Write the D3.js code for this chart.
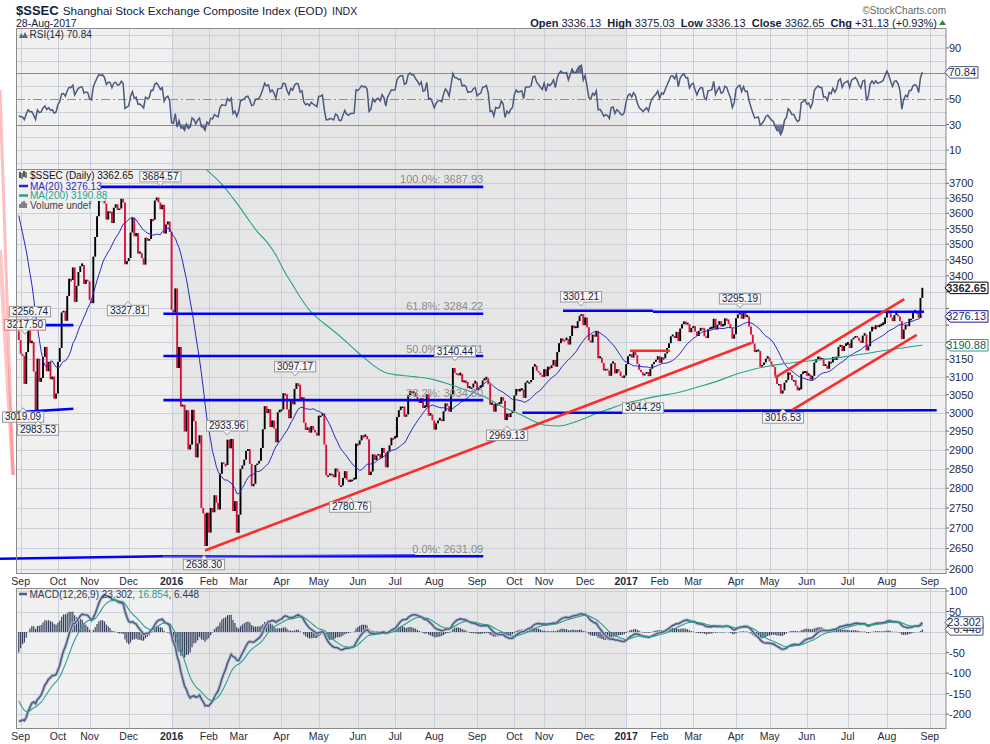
<!DOCTYPE html>
<html><head><meta charset="utf-8">
<script src="https://cdn.jsdelivr.net/npm/d3@7/dist/d3.min.js"></script>
<style>
body{margin:0;background:#fff}
svg{display:block}
.t{font-family:"Liberation Sans",Arial,sans-serif}
</style></head>
<body><svg id="c" width="990" height="744"></svg>
<script>
// ---------------- DATA ----------------
// warm-up closes (Jun 1 - Aug 28 2015) used only to seed MA/RSI/MACD
const warmupCloses = [4829,4910,4910,4947,5023,5131,5114,5106,5121,5166,5062,4887,4967,4786,4478,4577,4691,4528,4193,4053,4277,
4054,3913,3687,3776,3728,3507,3710,3878,3970,3925,3806,3823,3958,3993,4017,4027,4124,4071,3726,3663,3790,3705,3664,
3623,3757,3695,3661,3744,3928,3928,3887,3955,3965,3993,3749,3794,3664,3508,3210,2965,2927,3084,3232];
// daily closes, trading day index 0 = 31-Aug-2015 ... 485 = 28-Aug-2017
const closes = [3206,
3166,3160,3080,3171,3243,3197,3200,3115,3005,3152,3086,3097,3157,3186,3116,3143,3093,3101,3039,3053,
3143,3183,3288,3293,3263,3338,3391,3387,3426,3320,3369,3412,3430,3434,3375,3388,3383,
3326,3316,3460,3523,3590,3647,3640,3650,3632,3580,3607,3605,3568,3618,3630,3611,3616,3648,3636,3436,3446,
3456,3537,3585,3525,3536,3470,3472,3455,3435,3520,3511,3516,3581,3579,3642,3652,3636,3613,3628,3534,3563,3573,3539,
3296,3288,3361,3125,3186,3017,3022,2949,3007,2901,2914,3008,2977,2880,2917,2939,2750,2736,2656,2738,
2689,2750,2739,2782,2763,2746,2837,2867,2863,2860,2927,2904,2929,2742,2767,2688,
2733,2850,2859,2874,2897,2902,2863,2805,2811,2860,2864,2871,2905,2955,3018,2999,3010,2961,2979,2957,2920,3001,3004,
3009,3054,3051,3009,2985,3034,3023,3066,3082,3078,3034,3043,2973,2953,2960,2946,2964,2954,2946,2938,
2992,2992,2998,2914,2833,2833,2838,2836,2828,2851,2843,2807,2807,2826,2844,2822,2816,2822,2822,2823,2917,
2914,2925,2939,2935,2937,2928,2834,2843,2888,2873,2885,2889,2878,2905,2892,2854,2896,2912,2932,2930,
2933,2988,3007,3017,3017,2989,2995,3049,3060,3054,3055,3044,3037,3027,3040,3013,3016,3051,2992,2995,2979,
2954,2971,2979,2982,2977,3004,3026,3018,3003,3051,3125,3111,3110,3104,3108,3085,3090,3086,3068,3070,3070,3081,3085,
3063,3068,3072,3090,3092,3096,3079,3022,3024,3003,3026,3023,3025,3043,3033,2980,2998,2988,2999,3005,
3048,3066,3059,3062,3064,3041,3084,3085,3085,3091,3129,3132,3117,3112,3105,3100,
3122,3102,3129,3125,3133,3148,3129,3171,3197,3211,3207,3206,3209,3193,3218,3249,3241,3242,3262,3278,3283,3250,
3273,3244,3205,3199,3222,3216,3233,3153,3155,3140,3118,3123,3118,3103,3138,3140,3110,3122,3115,3102,3097,3104,
3136,3159,3165,3155,3171,3162,3137,3120,3113,3104,3109,3114,3102,3123,3136,3143,3149,3159,
3140,3156,3153,3167,3183,3197,3217,3218,3212,3230,3203,3240,3253,3261,3252,3253,3229,3242,
3247,3231,3218,3233,3242,3241,3217,3212,3238,3239,3241,3269,3237,3251,3262,3246,3249,3270,3267,3253,3241,3210,3223,
3271,3282,3287,3269,3289,3274,3276,3246,3222,3196,3171,3173,3174,3129,3134,3141,3152,3155,
3144,3135,3128,3103,3080,3080,3053,3062,3084,3091,3113,3105,3091,3091,3075,3062,3065,3108,3111,3117,
3103,3106,3092,3103,3141,3151,3158,3154,3154,3131,3132,3123,3144,3141,3157,3148,3158,3186,3192,3174,3189,3192,
3196,3183,3208,3213,3218,3213,3204,3198,3219,3222,3176,3188,3231,3245,3238,3250,3244,3247,3250,3254,3273,
3293,3285,3273,3262,3280,3282,3276,3262,3209,3237,3252,3247,3269,3269,3287,3291,3288,3272,3332,3363];
// MA(200): [dayIndex, value]
const ma200Points = [[100,3750],[104,3728],[110,3690],[115,3650],[120,3608],[124,3573],[128,3540],[133,3508],[138,3465],[142,3420],[147,3372],[151,3335],[156,3295],[161,3268],[166,3246],[171,3224],[176,3200],[181,3175],[186,3152],[191,3130],[196,3114],[201,3107],[206,3104],[213,3100],[222,3093],[231,3079],[240,3063],[250,3044],[259,3018],[268,2998],[277,2976],[283,2966],[290,2964],[297,2972],[304,2985],[310,2998],[318,3012],[325,3025],[334,3036],[343,3046],[354,3056],[365,3072],[375,3088],[383,3104],[392,3118],[400,3128],[410,3137],[418,3142],[427,3147],[436,3152],[445,3159],[454,3166],[463,3174],[474,3183],[485,3190.88]];
const monthTicks = [[1,"Sep"],[21,"Oct"],[38,"Nov"],[59,"Dec"],[82,"2016"],[102,"Feb"],[118,"Mar"],[141,"Apr"],[161,"May"],[182,"Jun"],[202,"Jul"],[223,"Aug"],[246,"Sep"],[266,"Oct"],[282,"Nov"],[304,"Dec"],[326,"2017"],[344,"Feb"],[362,"Mar"],[385,"Apr"],[403,"May"],[423,"Jun"],[445,"Jul"],[466,"Aug"],[489,"Sep"]];
const yearTicks = ["2016","2017"];
const priceTicks = [2600,2650,2700,2750,2800,2850,2900,2950,3000,3050,3100,3150,3200,3250,3300,3350,3400,3450,3500,3550,3600,3650,3700];
const rsiTicks = [10,30,50,70,90];
const rsiGrid = [0,10,20,40,60,80,90,100];
const macdTicks = [-200,-150,-100,-50,0,50,100];
const fibLevels = [["100.0%",3687.93],["61.8%",3284.22],["50.0%",3159.51],["38.2%",3034.80],["0.0%",2631.09]];
// price annotations: [dayIndex, value, side]
const priceLabels = [[76,3684.57,"up"],[58.6,3327.81,"down"],[6,3256.74,"up"],[3.3,3217.50,"up"],[2.3,3019.09,"down"],[10.3,2983.53,"down"],[111.8,2933.96,"up"],[99.4,2638.30,"down"],[148.3,3097.17,"up"],[177.8,2780.76,"down"],[234.1,3140.44,"up"],[262.1,2969.13,"down"],[301.8,3301.21,"up"],[335.1,3044.29,"down"],[387.1,3295.19,"up"],[410.2,3016.53,"down"]];
// drawn lines: [[i1,v1],[i2,v2], colour, width, opacity]
const drawnLines = [
 [[-10.1,4029],[-3.1,2834],"#ff5a5a",3,0.4],
 [[-10.1,3481],[-3.1,2834],"#ff5a5a",4,0.35],
 [[-1.5,3250],[29.3,3250],"#0000ff",2.6,1],
 [[-1.5,3001],[29.3,3011],"#0000ff",2.6,1],
 [[-10.1,2625],[77.6,2631],"#0000ff",2.6,1],
 [[77.6,2631],[212.7,2635],"#5050ff",1.3,1],
 [[292.1,3293],[340.4,3293],"#0000ff",2.6,1],
 [[340.4,3290],[485.9,3290],"#0000ff",2.6,1],
 [[270.3,3000],[326,3000],"#0000ff",2.6,1],
 [[326,3005],[492.7,3007],"#0000ff",2.6,1],
 [[100,2645],[393.4,3198],"#ff2a2a",2.6,1],
 [[328.1,3175],[349.5,3175],"#ff2a2a",2.6,1],
 [[405.9,3098],[475.3,3328],"#ff2a2a",2.6,1],
 [[415.2,3008],[482,3221],"#ff2a2a",2.6,1]
];
const headerQuote = [["Open","3336.13"],["High","3375.03"],["Low","3336.13"],["Close","3362.65"],["Chg","+31.13 (+0.93%)"]];
const lastValues = {close:3362.65, ma20:3276.13, ma200:3190.88, rsi:70.84, macd:23.302, signal:16.854, hist:6.448};

// ---------------- INDICATORS ----------------
const all = warmupCloses.concat(closes);
const off = warmupCloses.length;
const ma20 = closes.map((c,i)=>d3.mean(all.slice(off+i-19, off+i+1)));
function emaCalc(arr,n){const k=2/(n+1);let e=arr[0];return arr.map((v,i)=>{e=i===0?v:v*k+e*(1-k);return e;});}
const e12=emaCalc(all,12), e26=emaCalc(all,26);
const macdAll=all.map((v,i)=>e12[i]-e26[i]);
const sigAll=emaCalc(macdAll,9);
const macd=closes.map((c,i)=>macdAll[off+i]);
const signal=closes.map((c,i)=>sigAll[off+i]);
const hist=closes.map((c,i)=>macd[i]-signal[i]);
function rsiCalc(arr,n){const out=[];let ag=0,al=0;for(let i=1;i<arr.length;i++){const ch=arr[i]-arr[i-1];const g=Math.max(ch,0),l=Math.max(-ch,0);
 if(i<=n){ag+=g/n;al+=l/n;}else{ag=(ag*(n-1)+g)/n;al=(al*(n-1)+l)/n;} out[i]= i>=n ? 100-100/(1+ag/(al||1e-9)) : 50;} out[0]=50; return out;}
const rsiAll=rsiCalc(all,14);
const rsi=closes.map((c,i)=>rsiAll[off+i]);

// ---------------- LAYOUT ----------------
const svg=d3.select("#c");
const L=16,R=946;
const P={rsi:[28.5,169.5],main:[169.5,573.5],macd:[588.5,728.5]};
const x=d3.scaleLinear().domain([-1.5,497.7]).range([L,R]);
const y=d3.scaleLog().domain([2590,3747]).range([P.main[1],P.main[0]]);
const yr=d3.scaleLinear().domain([-5.25,105.2]).range([P.rsi[1],P.rsi[0]]);
const ym=d3.scaleLinear().domain([-234.5,106.6]).range([728.3,588.3]);
const GRID="#c9d0da", BORDER="#8a8a8a", TXT="#1e2a40", RED="#d8123c", TEAL="#27a28c", BLUE="#2727c8";
const i2016=monthTicks.find(d=>d[1]==="2016")[0], i2017=monthTicks.find(d=>d[1]==="2017")[0];

Object.entries(P).forEach(([k,[t,b]])=>{
  svg.append("rect").attr("x",L).attr("y",t).attr("width",R-L).attr("height",b-t).attr("fill","#f0f0f0");
  svg.append("rect").attr("x",x(i2016)).attr("y",t).attr("width",x(i2017)-x(i2016)).attr("height",b-t).attr("fill","#e6e6e6");
  svg.append("g").selectAll("line").data(monthTicks).join("line")
    .attr("x1",d=>Math.round(x(d[0]))+0.5).attr("x2",d=>Math.round(x(d[0]))+0.5).attr("y1",t).attr("y2",b)
    .attr("stroke",GRID).attr("stroke-width",1);
});
svg.append("g").selectAll("line").data(priceTicks).join("line")
  .attr("x1",L).attr("x2",R).attr("y1",d=>Math.round(y(d))+0.5).attr("y2",d=>Math.round(y(d))+0.5).attr("stroke",GRID);
svg.append("g").selectAll("line").data(rsiGrid).join("line")
  .attr("x1",L).attr("x2",R).attr("y1",d=>Math.round(yr(d))+0.5).attr("y2",d=>Math.round(yr(d))+0.5).attr("stroke",GRID);
svg.append("g").selectAll("line").data([30,70]).join("line")
  .attr("x1",L).attr("x2",R).attr("y1",d=>Math.round(yr(d))+0.5).attr("y2",d=>Math.round(yr(d))+0.5).attr("stroke","#8d8d8d");
svg.append("line").attr("x1",L).attr("x2",R).attr("y1",Math.round(yr(50))+0.5).attr("y2",Math.round(yr(50))+0.5)
  .attr("stroke","#909090").attr("stroke-dasharray","9,3,2,3");
svg.append("g").selectAll("line").data([-200,-150,-100,-50,0,50,100]).join("line")
  .attr("x1",L).attr("x2",R).attr("y1",d=>Math.round(ym(d))+0.5).attr("y2",d=>Math.round(ym(d))+0.5).attr("stroke",GRID);

const defs=svg.append("defs");
Object.entries(P).forEach(([k,[t,b]])=>{
  defs.append("clipPath").attr("id","clip-"+k).append("rect").attr("x",L).attr("y",t).attr("width",R-L).attr("height",b-t);
});

// ---------------- RSI ----------------
const gr=svg.append("g").attr("clip-path","url(#clip-rsi)");
const areaHi=d3.area().x((d,i)=>x(i)).y0(yr(70)).y1(d=>yr(Math.max(d,70)));
const areaLo=d3.area().x((d,i)=>x(i)).y0(yr(30)).y1(d=>yr(Math.min(d,30)));
gr.append("path").attr("d",areaHi(rsi)).attr("fill","#6b7794");
gr.append("path").attr("d",areaLo(rsi)).attr("fill","#6b7794");
gr.append("path").attr("d",d3.line().x((d,i)=>x(i)).y(d=>yr(d))(rsi)).attr("fill","none").attr("stroke","#4b5a7d").attr("stroke-width",1.5);

// ---------------- MAIN ----------------
const gm=svg.append("g").attr("clip-path","url(#clip-main)");
gm.append("g").selectAll("line").data(closes).join("line")
  .attr("x1",(d,i)=>x(i)).attr("x2",(d,i)=>x(i))
  .attr("y1",(d,i)=>{const p=i>0?closes[i-1]:all[off-1];return y(p);})
  .attr("y2",(d,i)=>{const p=i>0?closes[i-1]:all[off-1];const a=y(p),b=y(d);return Math.abs(a-b)<1.5?(b+(b>=a?1.5:-1.5)):b;})
  .attr("stroke",(d,i)=>{const p=i>0?closes[i-1]:all[off-1];return d<p?RED:"#000";})
  .attr("stroke-width",1.9);
gm.append("path").attr("d",d3.line().x((d,i)=>x(i)).y(d=>y(d))(ma20)).attr("fill","none").attr("stroke",BLUE).attr("stroke-width",1);
gm.append("path").attr("d",d3.line().x(d=>x(d[0])).y(d=>y(d[1])).curve(d3.curveMonotoneX)(ma200Points)).attr("fill","none").attr("stroke",TEAL).attr("stroke-width",1.1);

const gf=svg.append("g");
fibLevels.forEach((f,k)=>{
  const i0 = k===0 ? 43 : 77.6;
  gf.append("line").attr("x1",x(i0)).attr("x2",x(249.3)).attr("y1",y(f[1])).attr("y2",y(f[1])).attr("stroke","#0000ff").attr("stroke-width",2.6);
});
const gd=svg.append("g");
drawnLines.forEach(l=>{
  gd.append("line").attr("x1",x(l[0][0])).attr("y1",y(l[0][1])).attr("x2",x(l[1][0])).attr("y2",y(l[1][1]))
    .attr("stroke",l[2]).attr("stroke-width",l[3]).attr("stroke-opacity",l[4]);
});
fibLevels.forEach(f=>{
  gf.append("text").attr("class","t").attr("x",x(249.3)).attr("y",y(f[1])-3.5).attr("text-anchor","end")
    .attr("font-size",11).attr("fill","#8c8c8c").style("white-space","pre").text(f[0]+": "+f[1].toFixed(2));
});

const gl=svg.append("g");
priceLabels.forEach(p=>{
  const px=x(p[0]), py=y(p[1]);
  const g=gl.append("g");
  const rect=g.append("rect"), ptr=g.append("path");
  const t=g.append("text").attr("class","t").attr("font-size",10).attr("fill","#13233f").attr("text-anchor","middle").text(p[1].toFixed(2));
  const w=t.node().getComputedTextLength()+5, h=10.5;
  const by = p[2]==="up" ? py-6-h : py+6;
  rect.attr("x",px-w/2).attr("y",by).attr("width",w).attr("height",h).attr("fill","#f7f7f7")
    .attr("stroke",p[1]===3217.50?"#e07070":"#9a9a9a").attr("stroke-width",1);
  const e = p[2]==="up" ? by+h : by;
  const tip = p[2]==="up" ? e+4 : e-4;
  ptr.attr("d",`M${px-3.5},${e} L${px},${tip} L${px+3.5},${e}`).attr("fill","#f7f7f7").attr("stroke","#9a9a9a");
  t.attr("x",px).attr("y",by+h-2);
});

// ---------------- MACD ----------------
const gc=svg.append("g").attr("clip-path","url(#clip-macd)");
gc.append("g").selectAll("line").data(hist).join("line")
  .attr("x1",(d,i)=>x(i)).attr("x2",(d,i)=>x(i)).attr("y1",ym(0)).attr("y2",d=>ym(d))
  .attr("stroke","#36405e").attr("stroke-width",1.2);
const lineM=d3.line().x((d,i)=>x(i)).y(d=>ym(d));
gc.append("path").attr("d",lineM(macd)).attr("fill","none").attr("stroke","#b7bfd6").attr("stroke-width",3.4);
gc.append("path").attr("d",lineM(macd)).attr("fill","none").attr("stroke","#4e5c7e").attr("stroke-width",1.5);
gc.append("path").attr("d",lineM(signal)).attr("fill","none").attr("stroke",TEAL).attr("stroke-width",1.1);

Object.values(P).forEach(([t,b])=>{
  svg.append("rect").attr("x",L+0.5).attr("y",t).attr("width",R-L-0.5).attr("height",b-t).attr("fill","none").attr("stroke",BORDER);
});

// ---------------- AXES (right) ----------------
const boxes=[
  [yr(lastValues.rsi),lastValues.rsi.toFixed(2),"#4b5a7d","#1e2a40",false,33],
  [y(lastValues.ma200),lastValues.ma200.toFixed(2),TEAL,"#1e5a50",false,43],
  [y(lastValues.ma20),lastValues.ma20.toFixed(2),"#1a1ab0","#1a1a80",false,43],
  [y(lastValues.close),lastValues.close.toFixed(2),"#000","#1e2a40",true,43],
  [ym(lastValues.hist),lastValues.hist.toFixed(3),"#4b5a7d","#1e2a40",false,38],
  [ym(lastValues.macd),lastValues.macd.toFixed(3),"#4b5a7d","#1e2a40",false,38]
];
function rightAxis(scale,ticks){
  const g=svg.append("g");
  ticks.forEach(v=>{
    const yy=scale(v);
    g.append("line").attr("x1",R).attr("x2",R+3).attr("y1",yy).attr("y2",yy).attr("stroke","#666");
    if(boxes.some(b=>Math.abs(b[0]-yy)<9.5)) return;
    g.append("text").attr("class","t").attr("x",R+3).attr("y",yy+4).attr("font-size",11).attr("fill",TXT).text(v);
  });
}
rightAxis(y,priceTicks);
rightAxis(yr,rsiTicks);
rightAxis(ym,macdTicks);

boxes.forEach(([yy,txt,stroke,color,bold,w])=>{
  const g=svg.append("g");
  const x0=R-1,h=11.5;
  g.append("path").attr("d",`M${x0},${yy} L${x0+5},${yy-h/2} L${x0+w},${yy-h/2} L${x0+w},${yy+h/2} L${x0+5},${yy+h/2} Z`)
   .attr("fill","#fff").attr("stroke",stroke).attr("stroke-width",1);
  g.append("text").attr("class","t").attr("x",x0+w-2).attr("y",yy+4).attr("text-anchor","end").attr("font-size",11)
   .attr("font-weight",bold?"bold":"normal").attr("fill",color).text(txt);
});

// ---------------- X AXES ----------------
[584.5,739.5].forEach(by=>{
  svg.append("g").selectAll("text").data(monthTicks).join("text").attr("class","t")
    .attr("x",d=>x(d[0])).attr("y",by).attr("text-anchor","middle").attr("font-size",10.5)
    .attr("font-weight",d=>yearTicks.includes(d[1])?"bold":"normal").attr("fill",TXT).text(d=>d[1]);
});

// ---------------- LEGENDS ----------------
function legendRow(yy,txt,color,w){
  svg.append("rect").attr("x",L+1).attr("y",yy-8).attr("width",w).attr("height",10).attr("fill","#f0f0f0");
  svg.append("text").attr("class","t").attr("x",30).attr("y",yy).attr("font-size",10).attr("fill",color).text(txt);
}
legendRow(179,"$SSEC (Daily) "+lastValues.close.toFixed(2),"#111",114);
legendRow(189.5,"MA(20) "+lastValues.ma20.toFixed(2),BLUE,84);
legendRow(199,"MA(200) "+lastValues.ma200.toFixed(2),TEAL,88);
legendRow(208.5,"Volume undef","#444",76);
svg.append("line").attr("x1",19).attr("x2",28).attr("y1",186).attr("y2",186).attr("stroke",BLUE).attr("stroke-width",2.5);
svg.append("line").attr("x1",19).attr("x2",28).attr("y1",195.5).attr("y2",195.5).attr("stroke",TEAL).attr("stroke-width",2.5);
[[20,172,178],[22,173,179],[24,171,177],[26,172,178]].forEach((b,k)=>svg.append("line").attr("x1",b[0]).attr("x2",b[0]).attr("y1",b[1]).attr("y2",b[2]).attr("stroke",k%2?"#444":"#000").attr("stroke-width",1.3));
[[20,204],[22,202],[24,201],[26,203]].forEach(b=>svg.append("line").attr("x1",b[0]).attr("x2",b[0]).attr("y1",b[1]).attr("y2",208).attr("stroke","#555").attr("stroke-width",1.4));
svg.append("path").attr("d","M19,38 L21,33 L23,36 L25,32 L28,38 Z").attr("fill","#5b6888");
svg.append("text").attr("class","t").attr("x",29.5).attr("y",38).attr("font-size",10).attr("fill",TXT).text("RSI(14) "+lastValues.rsi.toFixed(2));
svg.append("line").attr("x1",19).attr("x2",27).attr("y1",594).attr("y2",594).attr("stroke","#4e5c7e").attr("stroke-width",2.5);
const mt=svg.append("text").attr("class","t").attr("x",29.5).attr("y",597.5).attr("font-size",10).attr("fill","#2e3a58");
mt.append("tspan").text("MACD(12,26,9) "+lastValues.macd.toFixed(3)+", ");
mt.append("tspan").attr("fill",TEAL).text(lastValues.signal.toFixed(3));
mt.append("tspan").text(", "+lastValues.hist.toFixed(3));

// ---------------- HEADER ----------------
const ht=svg.append("text").attr("class","t").attr("x",16).attr("y",14.5).attr("fill","#14203a");
ht.append("tspan").attr("font-size",13).attr("font-weight","bold").text("$SSEC");
ht.append("tspan").attr("font-size",11.7).attr("dx",4).text("Shanghai Stock Exchange Composite Index (EOD)");
ht.append("tspan").attr("font-size",10.5).attr("dx",5).text("INDX");
svg.append("text").attr("class","t").attr("x",16).attr("y",27).attr("font-size",10.5).attr("fill","#14203a").text("28-Aug-2017");
svg.append("text").attr("class","t").attr("x",946).attr("y",14).attr("text-anchor","end").attr("font-size",10).attr("fill","#666").text("©StockCharts.com");
const qt=svg.append("text").attr("class","t").attr("x",937).attr("y",26.5).attr("text-anchor","end").attr("font-size",11).attr("fill","#14203a").style("white-space","pre");
headerQuote.forEach((q,k)=>{
  qt.append("tspan").attr("font-weight","bold").text(q[0]);
  qt.append("tspan").text(" "+q[1]+(k<headerQuote.length-1?"  ":""));
});
svg.append("path").attr("d","M939,25 L942.5,20 L946,25 Z").attr("fill","#2e8b2e");
</script></body></html>
